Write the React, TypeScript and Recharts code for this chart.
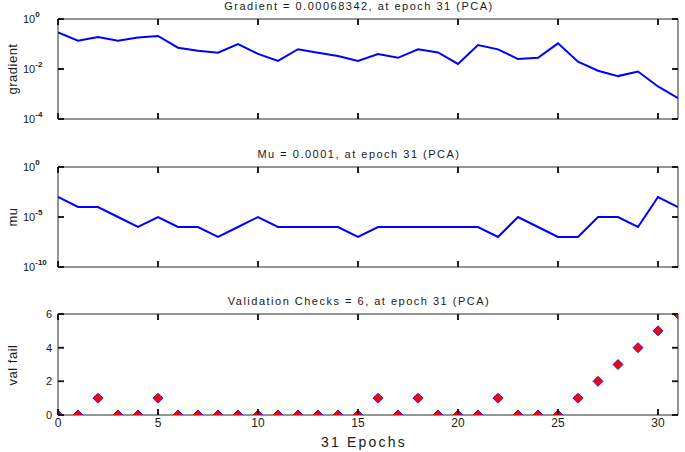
import React from 'react';
import { ComposedChart, Line, XAxis, YAxis } from 'recharts';

const epochs = [0, 1, 2, 3, 4, 5, 6, 7, 8, 9, 10, 11, 12, 13, 14, 15, 16, 17, 18, 19, 20, 21, 22, 23, 24, 25, 26, 27, 28, 29, 30, 31];
const gradient = [0.29, 0.135, 0.19, 0.135, 0.18, 0.21, 0.071, 0.054, 0.045, 0.1, 0.04, 0.021, 0.062, 0.045, 0.033, 0.021, 0.04, 0.028, 0.061, 0.046, 0.016, 0.091, 0.061, 0.025, 0.028, 0.106, 0.0197, 0.0085, 0.0052, 0.0079, 0.002, 0.00068342];
const mu = [1e-3, 1e-4, 1e-4, 1e-5, 1e-6, 1e-5, 1e-6, 1e-6, 1e-7, 1e-6, 1e-5, 1e-6, 1e-6, 1e-6, 1e-6, 1e-7, 1e-6, 1e-6, 1e-6, 1e-6, 1e-6, 1e-6, 1e-7, 1e-5, 1e-6, 1e-7, 1e-7, 1e-5, 1e-5, 1e-6, 1e-3, 1e-4];
const valFail = [0, 0, 1, 0, 0, 1, 0, 0, 0, 0, 0, 0, 0, 0, 0, 0, 1, 0, 1, 0, 0, 0, 1, 0, 0, 0, 1, 2, 3, 4, 5, 6];

const epochTicks = [0, 5, 10, 15, 20, 25, 30];
const gradientTicks = [1e-4, 1e-2, 1];
const muTicks = [1e-10, 1e-5, 1];
const valTicks = [0, 2, 4, 6];

const rows = epochs.map((epoch, i) => ({ epoch, gradient: gradient[i], mu: mu[i], valFail: valFail[i] }));

const FONT = '"Liberation Sans", Arial, sans-serif';
const BOX = '#2a2a2a';
const TEXT = '#1a1a1a';
const TICK_COLOR = '#111';
const TICK_LEN = 6;
const TICK_LINE = { stroke: TICK_COLOR, strokeWidth: 1.5 };

// mirrored axes with tickMargin 0: x/y given to the tick renderer sit at the inner end
// of the tick; the renderer also draws the inward mark so it shows even if tickLine doesn't
const HTick = ({ x, y }: { x: number; y: number }) => (
  <rect x={x} y={y - 0.75} width={TICK_LEN} height={1.5} fill={TICK_COLOR} />
);
const VTick = ({ x, y }: { x: number; y: number }) => (
  <rect x={x - 0.75} y={y} width={1.5} height={TICK_LEN} fill={TICK_COLOR} />
);

const LeftPowerTick = (props: any) => {
  const { x, y, payload } = props;
  const exp = Math.round(Math.log10(payload.value));
  return (
    <g>
      <HTick x={x - TICK_LEN} y={y} />
      <text x={x - 41} y={y + 4} fontSize={11} fill={TEXT} fontFamily={FONT} textAnchor="start">
        <tspan>10</tspan>
        <tspan dy={-6} fontSize={8} fontWeight="bold">{exp}</tspan>
      </text>
    </g>
  );
};

const LeftPlainTick = (props: any) => {
  const { x, y, payload } = props;
  return (
    <g>
      <HTick x={x - TICK_LEN} y={y} />
      <text x={x - 12} y={y + 4} fontSize={11} fill={TEXT} fontFamily={FONT} textAnchor="end">
        {payload.value}
      </text>
    </g>
  );
};

const RightTick = (props: any) => <HTick x={props.x} y={props.y} />;
const TopTick = (props: any) => <VTick x={props.x} y={props.y - TICK_LEN} />;
const BottomTick = (props: any) => <VTick x={props.x} y={props.y} />;

const EpochTick = (props: any) => {
  const { x, y, payload } = props;
  return (
    <g>
      <VTick x={x} y={y} />
      <text x={x} y={y + 18} fontSize={12} fill={TEXT} fontFamily={FONT} textAnchor="middle">
        {payload.value}
      </text>
    </g>
  );
};

const Diamond = (props: any) => {
  const { cx, cy } = props;
  if (cx == null || cy == null) return <g />;
  return (
    <polygon
      points={`${cx},${cy - 5} ${cx + 5},${cy} ${cx},${cy + 5} ${cx - 5},${cy}`}
      fill="#ff0000"
      stroke="#2020ff"
      strokeWidth={1}
    />
  );
};

interface PanelProps {
  top: number;
  height: number;
  margin: { top: number; bottom: number };
  title: string;
  ylabel: string;
  dataKey: string;
  log: boolean;
  domain: [number, number];
  ticks: number[];
  showEpochLabels?: boolean;
  markers?: boolean;
}

const Panel: React.FC<PanelProps> = ({ top, height, margin, title, ylabel, dataKey, log, domain, ticks, showEpochLabels, markers }) => {
  const plotTop = top + margin.top;
  const plotMid = plotTop + (height - margin.top - margin.bottom) / 2;
  return (
    <>
      <div style={{ position: 'absolute', left: 359, top: plotTop - 19, transform: 'translateX(-50%)', whiteSpace: 'nowrap', fontFamily: FONT, fontSize: 11, letterSpacing: 1.5, color: TEXT }}>
        {title}
      </div>
      <div style={{ position: 'absolute', left: 12, top: plotMid, transform: 'translate(-50%, -50%) rotate(-90deg)', whiteSpace: 'nowrap', fontFamily: FONT, fontSize: 13, letterSpacing: 0.5, color: TEXT }}>
        {ylabel}
      </div>
      <div style={{ position: 'absolute', left: 0, top }}>
        <ComposedChart width={685} height={height} data={rows} margin={{ top: margin.top, bottom: margin.bottom, left: 58, right: 7 }}>
          <XAxis dataKey="epoch" type="number" domain={[0, 31]} ticks={epochTicks} interval={0} allowDataOverflow height={1} mirror tickSize={TICK_LEN} tickMargin={0} stroke={BOX} tickLine={TICK_LINE} tick={showEpochLabels ? EpochTick : BottomTick} />
          <XAxis xAxisId="top" dataKey="epoch" orientation="top" type="number" domain={[0, 31]} ticks={epochTicks} interval={0} allowDataOverflow height={1} mirror tickSize={TICK_LEN} tickMargin={0} stroke={BOX} tickLine={TICK_LINE} tick={TopTick} />
          <YAxis type="number" scale={log ? 'log' : 'linear'} domain={domain} ticks={ticks} interval={0} allowDataOverflow width={1} mirror tickSize={TICK_LEN} tickMargin={0} stroke={BOX} tickLine={TICK_LINE} tick={log ? LeftPowerTick : LeftPlainTick} />
          <YAxis yAxisId="right" orientation="right" type="number" scale={log ? 'log' : 'linear'} domain={domain} ticks={ticks} interval={0} allowDataOverflow width={1} mirror tickSize={TICK_LEN} tickMargin={0} stroke={BOX} tickLine={TICK_LINE} tick={RightTick} />
          {markers ? (
            <Line dataKey={dataKey} stroke="none" dot={Diamond} activeDot={false} isAnimationActive={false} />
          ) : (
            <Line dataKey={dataKey} stroke="#0000ff" strokeWidth={2} dot={false} activeDot={false} isAnimationActive={false} type="linear" />
          )}
        </ComposedChart>
      </div>
    </>
  );
};

export default function App() {
  return (
    <div style={{ position: 'absolute', left: 0, top: 0, width: 685, height: 452, background: '#fff', overflow: 'hidden' }}>
      <Panel top={0} height={145} margin={{ top: 19, bottom: 26 }} title="Gradient = 0.00068342, at epoch 31 (PCA)" ylabel="gradient" dataKey="gradient" log domain={[1e-4, 1]} ticks={gradientTicks} />
      <Panel top={145} height={147} margin={{ top: 22, bottom: 25 }} title="Mu = 0.0001, at epoch 31 (PCA)" ylabel="mu" dataKey="mu" log domain={[1e-10, 1]} ticks={muTicks} />
      <Panel top={292} height={160} margin={{ top: 22, bottom: 37 }} title="Validation Checks = 6, at epoch 31 (PCA)" ylabel="val fail" dataKey="valFail" log={false} domain={[0, 6]} ticks={valTicks} showEpochLabels markers />
      <div style={{ position: 'absolute', left: 364, top: 434, transform: 'translateX(-50%)', whiteSpace: 'nowrap', fontFamily: FONT, fontSize: 14, letterSpacing: 2.2, color: TEXT }}>
        31 Epochs
      </div>
    </div>
  );
}
